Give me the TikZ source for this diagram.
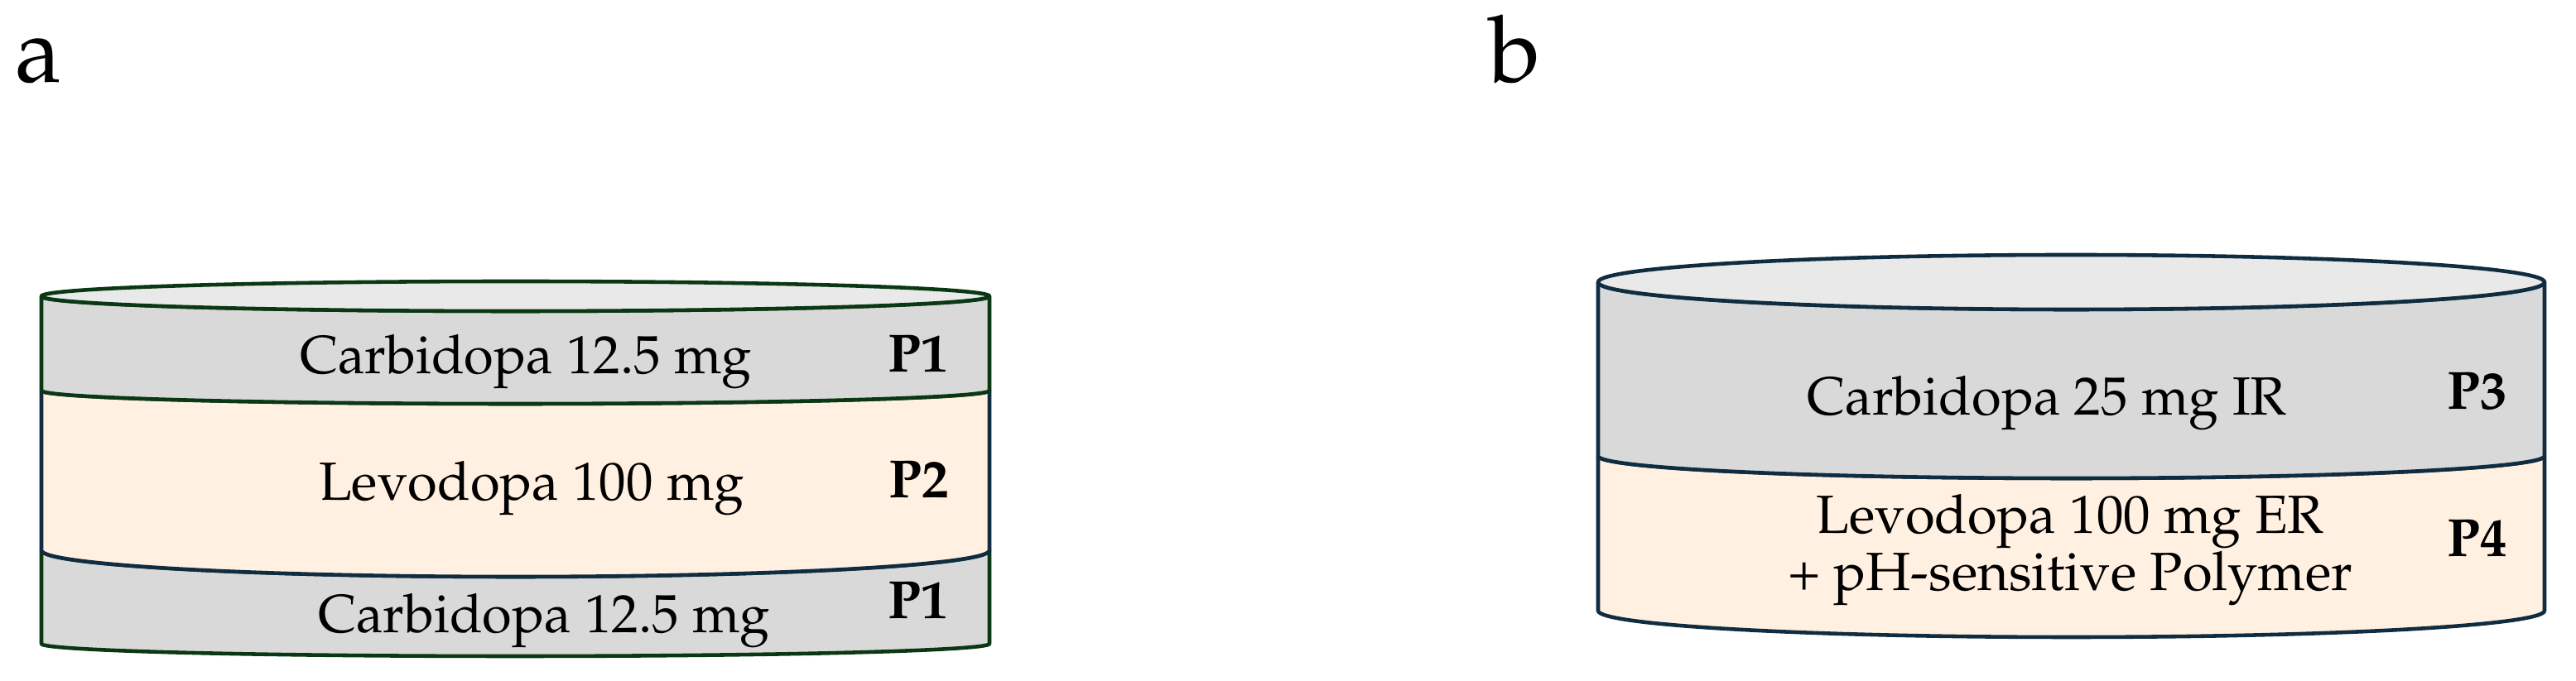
\documentclass[tikz,border=0pt]{standalone}
\usepackage[T1]{fontenc}
\usepackage{mathpazo}

\definecolor{bandgray}{RGB}{217,217,217}
\definecolor{facegray}{RGB}{233,233,233}
\definecolor{peach}{RGB}{255,240,225}
\definecolor{darkgrn}{RGB}{10,56,20}
\definecolor{darknavy}{RGB}{16,44,64}

\begin{document}
\begin{tikzpicture}[
  layer/.style={line width=1.3pt,line join=round},
  lbl/.style={inner sep=0pt,anchor=base,font=\fontsize{18.5}{16.5}\selectfont},
  tag/.style={inner sep=0pt,anchor=base,font=\fontsize{18.5}{22}\selectfont\bfseries},
  panel/.style={inner sep=0pt,anchor=base west,font=\fontsize{32}{38}\selectfont}]
  \useasboundingbox (0,0) rectangle (31.11,8.23);
  % tablet a: three layers
  \node[panel] (pa) at (0.18,7.23) {a};
  \draw[layer,fill=bandgray,draw=darkgrn] (0.5,1.58) arc[start angle=180,end angle=360,x radius=5.725,y radius=0.32] -- (11.95,0.45) arc[start angle=0,end angle=-180,x radius=5.725,y radius=0.15] -- cycle;
  \draw[layer,fill=peach,draw=darknavy] (0.5,3.51) arc[start angle=180,end angle=360,x radius=5.725,y radius=0.16] -- (11.95,1.58) arc[start angle=0,end angle=-180,x radius=5.725,y radius=0.32] -- cycle;
  \draw[layer,fill=bandgray,draw=darkgrn] (0.5,4.65) arc[start angle=180,end angle=360,x radius=5.725,y radius=0.18] -- (11.95,3.51) arc[start angle=0,end angle=-180,x radius=5.725,y radius=0.16] -- cycle;
  \draw[layer,fill=facegray,draw=darkgrn] (6.225,4.65) ellipse[x radius=5.725,y radius=0.18];
  \node[lbl] (c1) at (6.35,3.71) {Carbidopa 12.5 mg};
  \node[tag] (p1) at (11.09,3.73) {P1};
  \node[lbl] (l1) at (6.42,2.18) {Levodopa 100 mg};
  \node[tag] (p2) at (11.10,2.21) {P2};
  \node[lbl] (c2) at (6.57,0.58) {Carbidopa 12.5 mg};
  \node[tag] (p1b) at (11.09,0.75) {P1};
  % tablet b: two layers
  \node[panel] (pb) at (17.98,7.23) {b};
  \draw[layer,fill=peach,draw=darknavy] (19.3,2.72) arc[start angle=180,end angle=360,x radius=5.715,y radius=0.27] -- (30.73,0.85) arc[start angle=0,end angle=-180,x radius=5.715,y radius=0.32] -- cycle;
  \draw[layer,fill=bandgray,draw=darknavy] (19.3,4.82) arc[start angle=180,end angle=360,x radius=5.715,y radius=0.33] -- (30.73,2.72) arc[start angle=0,end angle=-180,x radius=5.715,y radius=0.27] -- cycle;
  \draw[layer,fill=facegray,draw=darknavy] (25.015,4.82) ellipse[x radius=5.715,y radius=0.33];
  \node[lbl] (c3) at (24.72,3.21) {Carbidopa 25 mg IR};
  \node[tag] (p3) at (29.92,3.28) {P3};
  \node[lbl,anchor=center,align=center] (l2) at (25.00,1.585) {Levodopa 100 mg ER\\+ pH-sensitive Polymer};
  \node[tag] (p4) at (29.92,1.50) {P4};
\end{tikzpicture}
\end{document}
